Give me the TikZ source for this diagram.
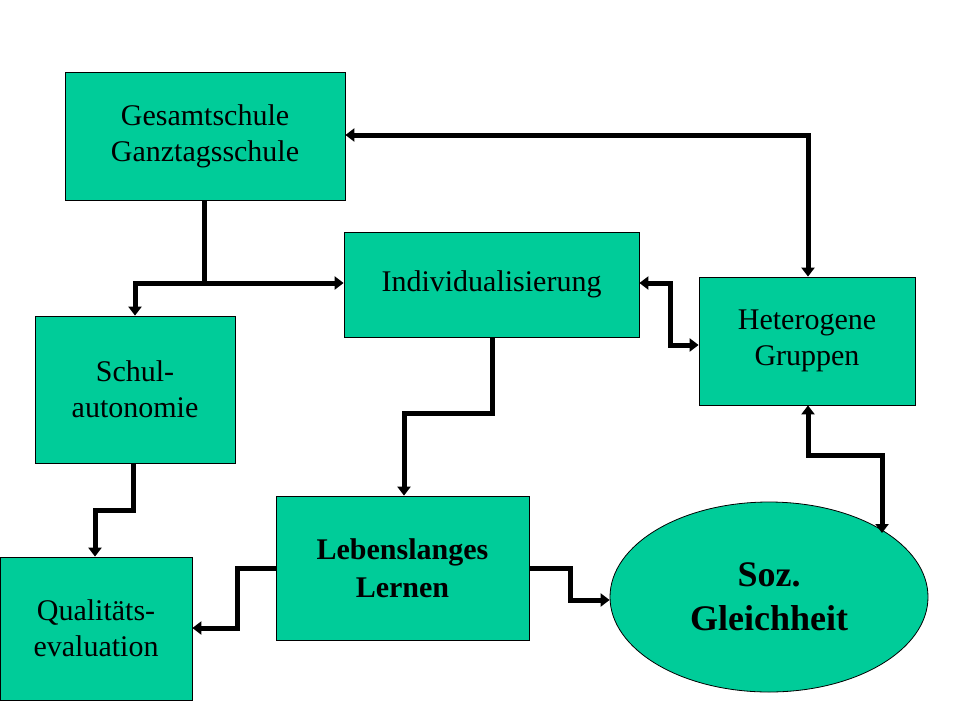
\documentclass[tikz,border=0pt]{standalone}
\usepackage{fontspec}
\setmainfont{Liberation Serif}
\usetikzlibrary{shapes.geometric,arrows.meta}
\definecolor{teal}{RGB}{0,204,153}
\begin{document}
\begin{tikzpicture}[x=1pt,y=-1pt,
  box/.style={draw=black,line width=0.8pt,fill=teal,align=center,inner sep=0pt,font=\fontsize{30}{36}\selectfont},
  conn/.style={line width=5pt,-{Triangle[length=9pt,width=13pt]}},
  conn2/.style={line width=5pt,{Triangle[length=9pt,width=13pt]}-{Triangle[length=9pt,width=13pt]}}]
\useasboundingbox (0,0) rectangle (960,720);
\fill[white] (0,0) rectangle (960,720);
\node[box,minimum width=280pt,minimum height=128pt] (ges) at (205,136) {Gesamtschule\\Ganztagsschule};
\node[box,minimum width=295pt,minimum height=105pt] (ind) at (491.5,284.5) {Individualisierung};
\node[box,minimum width=216pt,minimum height=128pt] (het) at (807,341) {Heterogene\\Gruppen};
\node[box,minimum width=200pt,minimum height=147pt] (sch) at (135,389.5) {Schul-\\autonomie};
\node[box,minimum width=253pt,minimum height=144pt,font=\fontsize{30}{38}\selectfont\bfseries] (leb) at (402.5,568) {Lebenslanges\\Lernen};
\node[box,minimum width=192pt,minimum height=143pt] (qua) at (96,628.5) {Qualitäts-\\evaluation};
\node[draw=black,line width=0.8pt,fill=teal,ellipse,minimum width=318pt,minimum height=190pt,align=center,inner sep=0pt,font=\fontsize{36}{44}\selectfont\bfseries] (soz) at (769,597) {Soz.\\Gleichheit};
\coordinate (j) at (204,283);
\draw[line width=5pt] (204,200) -- (j);
\draw[conn] (j) -- (ind.west|-j);
\draw[conn] (j) -- (135,283) -- (sch.north-|135,0);
\draw[conn2] (ges.east|-0,135) -- (808,135) -- (het.north-|808,0);
\draw[conn2] (ind.east|-0,283) -- (670,283) -- (670,345) -- (het.west|-0,345);
\draw[conn] (492,337) -- (492,413) -- (404,413) -- (leb.north-|404,0);
\draw[conn] (133,463) -- (133,510) -- (95,510) -- (qua.north-|95,0);
\draw[conn] (leb.west|-0,568) -- (237,568) -- (237,628) -- (qua.east|-0,628);
\draw[conn] (leb.east|-0,568) -- (570,568) -- (570,600) -- (soz.west|-0,600);
\draw[conn2] (het.south-|808,0) -- (808,455) -- (882,455) -- (882,533);
\end{tikzpicture}
\end{document}
